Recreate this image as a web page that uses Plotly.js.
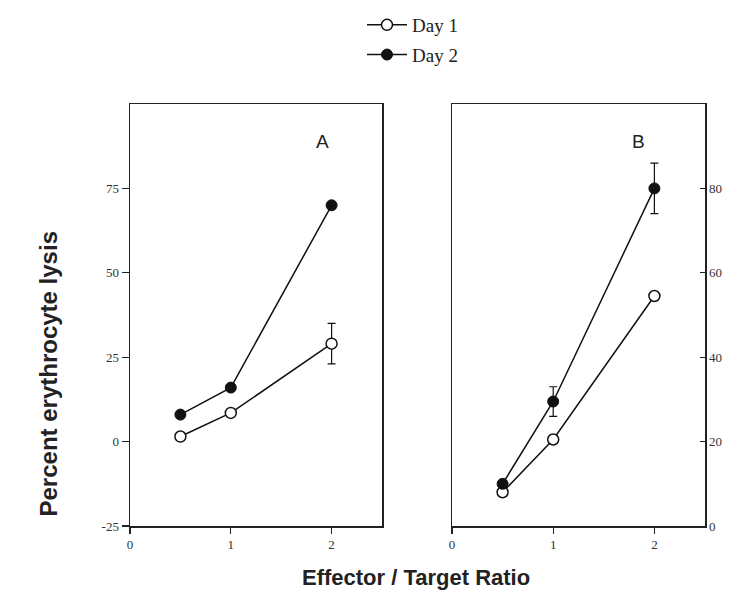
<!DOCTYPE html>
<html>
<head>
<meta charset="utf-8">
<script src="https://cdn.plot.ly/plotly-3.0.1.min.js"></script>
<style>
  html, body { margin: 0; padding: 0; background: #ffffff; }
  #chart { width: 731px; height: 608px; }
</style>
</head>
<body>
<div id="chart"></div>
<script>
// Effector / target ratios tested
const ratios = [0.5, 1, 2];

// Panel A: percent erythrocyte lysis
const aDay1 = [1.5, 8.5, 29];
const aDay1Err = [0, 0, 6];
const aDay2 = [8, 16, 70];
const aDay2Err = [0, 0, 0];

// Panel B: percent erythrocyte lysis
const bDay1 = [8, 20.5, 54.5];
const bDay1Err = [0, 0, 0];
const bDay2 = [10, 29.5, 80];
const bDay2Err = [0, 3.5, 6];

const seriesNames = ['Day 1', 'Day 2'];
const xTicks = [0, 1, 2];
const aTicks = [-25, 0, 25, 50, 75];
const aTickText = ['-25', '0', '25', '50', '75'];
const bTicks = [0, 20, 40, 60, 80];

const lineStyle = { color: '#111111', width: 1.5 };
const openMarker = { symbol: 'circle', size: 11, color: '#ffffff', line: { color: '#111111', width: 1.5 } };
const filledMarker = { symbol: 'circle', size: 11, color: '#111111', line: { color: '#111111', width: 1 } };

function errBars(arr) {
  return { type: 'data', array: arr, visible: true, color: '#111111', thickness: 1.2, width: 4 };
}

const traces = [
  { x: ratios, y: aDay1, error_y: errBars(aDay1Err), name: seriesNames[0], mode: 'lines+markers',
    line: lineStyle, marker: openMarker, xaxis: 'x', yaxis: 'y', showlegend: true,
    legendgroup: 'd1', legendrank: 1 },
  { x: ratios, y: aDay2, error_y: errBars(aDay2Err), name: seriesNames[1], mode: 'lines+markers',
    line: lineStyle, marker: filledMarker, xaxis: 'x', yaxis: 'y', showlegend: true,
    legendgroup: 'd2', legendrank: 2 },
  { x: ratios, y: bDay1, error_y: errBars(bDay1Err), name: seriesNames[0], mode: 'lines+markers',
    line: lineStyle, marker: openMarker, xaxis: 'x2', yaxis: 'y2', showlegend: false, legendgroup: 'd1' },
  { x: ratios, y: bDay2, error_y: errBars(bDay2Err), name: seriesNames[1], mode: 'lines+markers',
    line: lineStyle, marker: filledMarker, xaxis: 'x2', yaxis: 'y2', showlegend: false, legendgroup: 'd2' }
];

const tickFont = { family: 'Liberation Serif, Times New Roman, serif', size: 13, color: '#333333' };
const axisCommon = {
  showline: true, linecolor: '#222222', linewidth: 1.5, mirror: true,
  showgrid: false, zeroline: false, tickfont: tickFont,
  tickcolor: '#222222', tickwidth: 1.3
};

const yTop = 1 - 104 / 608;
const yBottom = 1 - 526 / 608;

const layout = {
  width: 731, height: 608,
  margin: { l: 0, r: 0, t: 0, b: 0 },
  paper_bgcolor: '#ffffff', plot_bgcolor: '#ffffff',
  showlegend: true,
  legend: {
    x: 362 / 731, y: 1 - 6 / 608, xanchor: 'left', yanchor: 'top',
    font: { family: 'Liberation Serif, Times New Roman, serif', size: 19, color: '#222222' },
    bgcolor: 'rgba(0,0,0,0)', tracegroupgap: 2, itemwidth: 40
  },
  xaxis: Object.assign({}, axisCommon, {
    domain: [130 / 731, 382 / 731], range: [0, 2.5], anchor: 'y',
    tickvals: xTicks, ticks: 'outside', ticklen: 6
  }),
  yaxis: Object.assign({}, axisCommon, {
    domain: [yBottom, yTop], range: [-25, 100], anchor: 'x',
    tickvals: aTicks, ticktext: aTickText, ticks: 'outside', ticklen: 7, side: 'left'
  }),
  xaxis2: Object.assign({}, axisCommon, {
    domain: [452 / 731, 705 / 731], range: [0, 2.5], anchor: 'y2',
    tickvals: xTicks, ticks: 'outside', ticklen: 6
  }),
  yaxis2: Object.assign({}, axisCommon, {
    domain: [yBottom, yTop], range: [0, 100], anchor: 'x2',
    tickvals: bTicks, ticks: 'inside', ticklen: 5, side: 'right'
  }),
  annotations: [
    { text: 'A', xref: 'paper', yref: 'paper', x: 322 / 731, y: 1 - 129 / 608,
      showarrow: false, font: { family: 'Liberation Sans, Arial, sans-serif', size: 19, color: '#222222' } },
    { text: 'B', xref: 'paper', yref: 'paper', x: 647 / 731, y: 1 - 129 / 608,
      showarrow: false, font: { family: 'Liberation Sans, Arial, sans-serif', size: 19, color: '#222222' } },
    { text: '<b>Percent erythrocyte lysis</b>', xref: 'paper', yref: 'paper', x: 32 / 731, y: 1 - 374 / 608,
      textangle: -90, showarrow: false,
      font: { family: 'Liberation Sans, Arial, sans-serif', size: 24, color: '#222222' } },
    { text: '<b>Effector / Target Ratio</b>', xref: 'paper', yref: 'paper', x: 416 / 731, y: 1 - 592 / 608,
      showarrow: false,
      font: { family: 'Liberation Sans, Arial, sans-serif', size: 22, color: '#222222' } }
  ]
};

Plotly.newPlot('chart', traces, layout, { displayModeBar: false, staticPlot: true });
</script>
</body>
</html>
